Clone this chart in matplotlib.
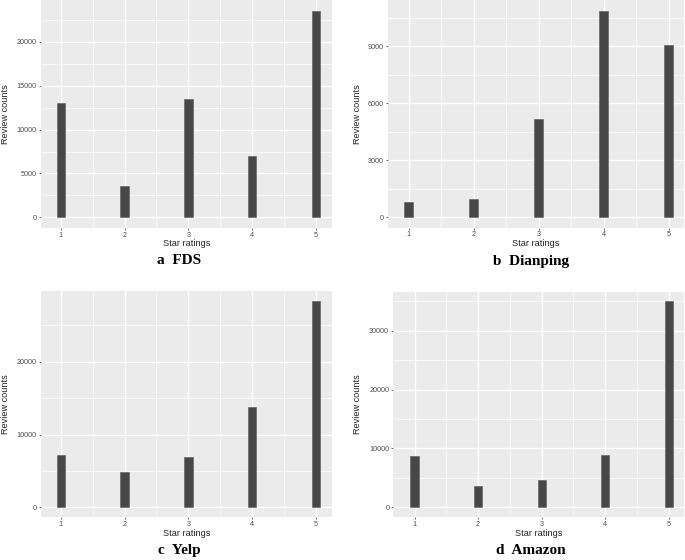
import matplotlib
matplotlib.use("Agg")
import matplotlib.pyplot as plt
from matplotlib.ticker import MultipleLocator, FixedLocator

stars = [1, 2, 3, 4, 5]
fds = [13000, 3550, 13500, 7050, 23500]
dianping = [800, 970, 5150, 10850, 9070]
yelp = [7250, 4800, 6850, 13800, 28400]
amazon = [8650, 3700, 4700, 8950, 35000]
titles = ["a  FDS", "b  Dianping", "c  Yelp", "d  Amazon"]
xlabel = "Star ratings"
ylabel = "Review counts"

W, H = 685, 560
fig = plt.figure(figsize=(W / 100, H / 100), dpi=100)

def fx(px):
    return px / W

def fy(py):
    return 1 - py / H

panels = [
    # data, (left, top, right, bottom) px, ylim, major step, xlim
    (fds, (40.7, 0, 332, 228.3), (-1255, 24790), 5000, (0.687, 5.25)),
    (dianping, (387.7, 0, 684.3, 227.7), (-547, 11437), 3000, (0.677, 5.24)),
    (yelp, (40.7, 291, 332, 517.3), (-1374, 29716), 10000, (0.687, 5.25)),
    (amazon, (393, 291.7, 684, 517.3), (-1698, 36620), 10000, (0.66, 5.24)),
]

tick_color = "#4D4D4D"
for i, (vals, (l, t, r, b), ylim, step, xlim) in enumerate(panels):
    ax = fig.add_axes([fx(l), fy(b), fx(r) - fx(l), fy(t) - fy(b)])
    ax.set_facecolor("#EBEBEB")
    for s in ax.spines.values():
        s.set_visible(False)
    ax.set_xlim(*xlim)
    ax.set_ylim(*ylim)
    ax.xaxis.set_major_locator(FixedLocator(stars))
    ax.xaxis.set_minor_locator(FixedLocator([1.5, 2.5, 3.5, 4.5]))
    ax.yaxis.set_major_locator(MultipleLocator(step))
    ax.yaxis.set_minor_locator(MultipleLocator(step / 2))
    ax.grid(which="major", color="white", linewidth=1.0)
    ax.grid(which="minor", color="white", linewidth=0.5)
    ax.set_axisbelow(True)
    ax.bar(stars, vals, width=0.13, color="#474747", edgecolor="#5a5a5a", linewidth=0.4, zorder=3)
    ax.tick_params(axis="both", which="major", labelsize=5.2, colors="#333333",
                   labelcolor=tick_color, length=1.7, width=0.5, pad=1.0)
    ax.tick_params(axis="both", which="minor", length=0)
    ax.set_xticklabels([str(s) for s in stars])
    ax.set_yticklabels([str(int(v)) if v >= 0 else "" for v in ax.get_yticks()])
    for lab in ax.get_xticklabels() + ax.get_yticklabels():
        lab.set_fontfamily("Liberation Sans")

    cx = (l + r) / 2
    if i in (0, 2):
        xl_y = 244 if i == 0 else 534
        tt_y = 261 if i == 0 else 550.7
        yl_x = 6
        tt_x = 179
    else:
        xl_y = 244 if i == 1 else 534
        tt_y = 261 if i == 1 else 550.7
        yl_x = 357
        tt_x = 531
    fig.text(fx(cx), fy(xl_y), xlabel, ha="center", va="center",
             fontsize=6.6, color="#222222", family="Liberation Sans")
    fig.text(fx(yl_x), fy((t + b) / 2), ylabel, ha="center", va="center",
             rotation=90, fontsize=6.6, color="#222222", family="Liberation Sans")
    fig.text(fx(tt_x), fy(tt_y), titles[i], ha="center", va="center",
             fontsize=11, fontweight="bold", color="black", family="Liberation Serif")

fig.savefig("out.png", dpi=100, facecolor="white")
